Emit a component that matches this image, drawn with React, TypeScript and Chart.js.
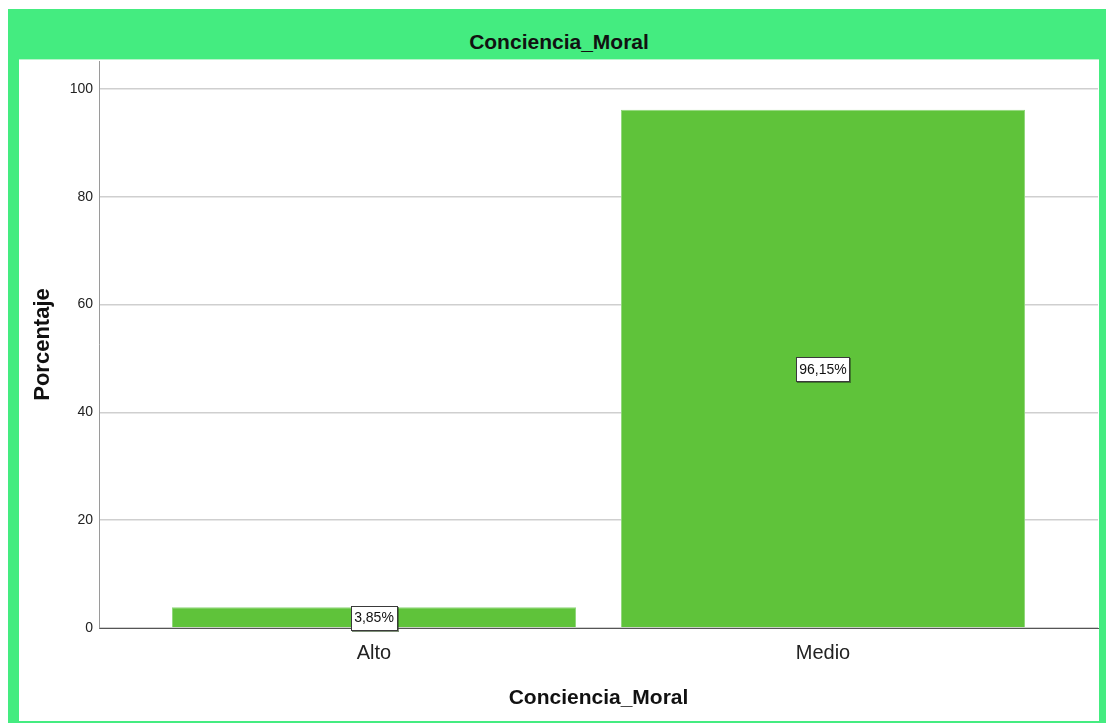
import React, { useEffect, useRef } from "react";
import { Chart, registerables } from "chart.js";

Chart.register(...registerables);

const categories = ["Alto", "Medio"];
const percentValues = [3.85, 96.15];
const valueLabels = ["3,85%", "96,15%"];
const yTicks = [0, 20, 40, 60, 80, 100];
const chartTitle = "Conciencia_Moral";
const yTitle = "Porcentaje";
const xTitle = "Conciencia_Moral";

const FONT = "'Liberation Sans', Arial, sans-serif";

const labelPlugin = {
  id: "boxLabels",
  afterDatasetsDraw(chart: any) {
    const ctx = chart.ctx;
    const meta = chart.getDatasetMeta(0);
    const yScale = chart.scales.y;
    ctx.save();
    ctx.font = `14px ${FONT}`;
    ctx.textAlign = "center";
    ctx.textBaseline = "middle";
    meta.data.forEach((bar: any, i: number) => {
      const txt = valueLabels[i];
      const cx = bar.x;
      const cy = (bar.y + yScale.getPixelForValue(0)) / 2;
      const w = Math.round(ctx.measureText(txt).width + 6);
      const h = 24;
      const x0 = Math.round(cx - w / 2);
      const y0 = Math.round(cy - h / 2);
      ctx.fillStyle = "rgba(40,70,30,0.6)";
      ctx.fillRect(x0 + 1, y0 + 1, w + 1, h + 1);
      ctx.fillStyle = "#ffffff";
      ctx.fillRect(x0, y0, w, h);
      ctx.strokeStyle = "#3a3a3a";
      ctx.lineWidth = 1;
      ctx.strokeRect(x0 + 0.5, y0 + 0.5, w, h);
      ctx.fillStyle = "#111111";
      ctx.fillText(txt, cx, cy + 1);
    });
    ctx.restore();
  },
};

export default function App() {
  const ref = useRef<HTMLCanvasElement | null>(null);

  useEffect(() => {
    if (!ref.current) return;
    const chart = new Chart(ref.current, {
      type: "bar",
      data: {
        datasets: [
          {
            data: categories.map((c, i) => ({ x: i, y: percentValues[i] })),
            backgroundColor: "#5FC33A",
            borderColor: "#8fd77a",
            borderWidth: 1,
            borderSkipped: "bottom",
            barPercentage: 0.9,
            categoryPercentage: 1,
          },
        ],
      },
      options: {
        animation: false,
        responsive: false,
        maintainAspectRatio: false,
        layout: { padding: { top: 1, right: 1, left: 0, bottom: 0 } },
        plugins: {
          legend: { display: false },
          tooltip: { enabled: false },
          title: { display: false },
        },
        scales: {
          x: {
            type: "linear",
            offset: false,
            min: -0.6125,
            max: 1.6125,
            grid: { display: false, drawTicks: false, offset: false },
            border: { display: true, color: "#555555", width: 1 },
            afterBuildTicks: (scale: any) => {
              scale.ticks = categories.map((_, i) => ({ value: i }));
            },
            afterFit: (scale: any) => {
              scale.height = 93;
              scale.paddingLeft = 0;
              scale.paddingRight = 0;
            },
            ticks: {
              padding: 13,
              font: { family: FONT, size: 20 },
              color: "#222222",
              callback: (v: any) => categories[v as number] ?? "",
              maxRotation: 0,
            },
            title: {
              display: true,
              text: xTitle,
              font: { family: FONT, size: 21, weight: "bold" },
              color: "#111111",
              padding: { top: 4, bottom: 10 },
            },
          },
          y: {
            type: "linear",
            min: 0,
            max: 105.2,
            grid: { color: "#cfcfcf", lineWidth: 1.5, drawTicks: false },
            border: { display: true, color: "#9a9a9a", width: 1 },
            afterBuildTicks: (scale: any) => {
              scale.ticks = yTicks.map((v) => ({ value: v }));
            },
            afterFit: (scale: any) => {
              scale.width = 80;
              scale.paddingTop = 0;
              scale.paddingBottom = 0;
            },
            ticks: {
              padding: 6,
              font: { family: FONT, size: 14 },
              color: "#222222",
            },
            title: {
              display: true,
              text: yTitle,
              font: { family: FONT, size: 22, weight: "bold" },
              color: "#111111",
              padding: { top: 11, bottom: 4 },
            },
          },
        },
      },
      plugins: [labelPlugin],
    });
    return () => chart.destroy();
  }, []);

  return (
    <div
      style={{
        position: "fixed",
        left: 8,
        top: 9,
        width: 1098,
        height: 714,
        background: "#44EC80",
        overflow: "hidden",
      }}
    >
      <div
        style={{
          position: "absolute",
          left: 0,
          top: 20,
          width: 1102,
          textAlign: "center",
          fontFamily: FONT,
          fontWeight: "bold",
          fontSize: 21,
          lineHeight: "26px",
          color: "#111111",
        }}
      >
        {chartTitle}
      </div>
      <div
        style={{
          position: "absolute",
          left: 11,
          top: 50,
          width: 1080,
          height: 662,
          background: "#ffffff",
          borderTop: "1px solid #b8f5cc",
          boxSizing: "border-box",
        }}
      >
        <canvas ref={ref} width={1080} height={661} style={{ display: "block" }} />
      </div>
    </div>
  );
}
